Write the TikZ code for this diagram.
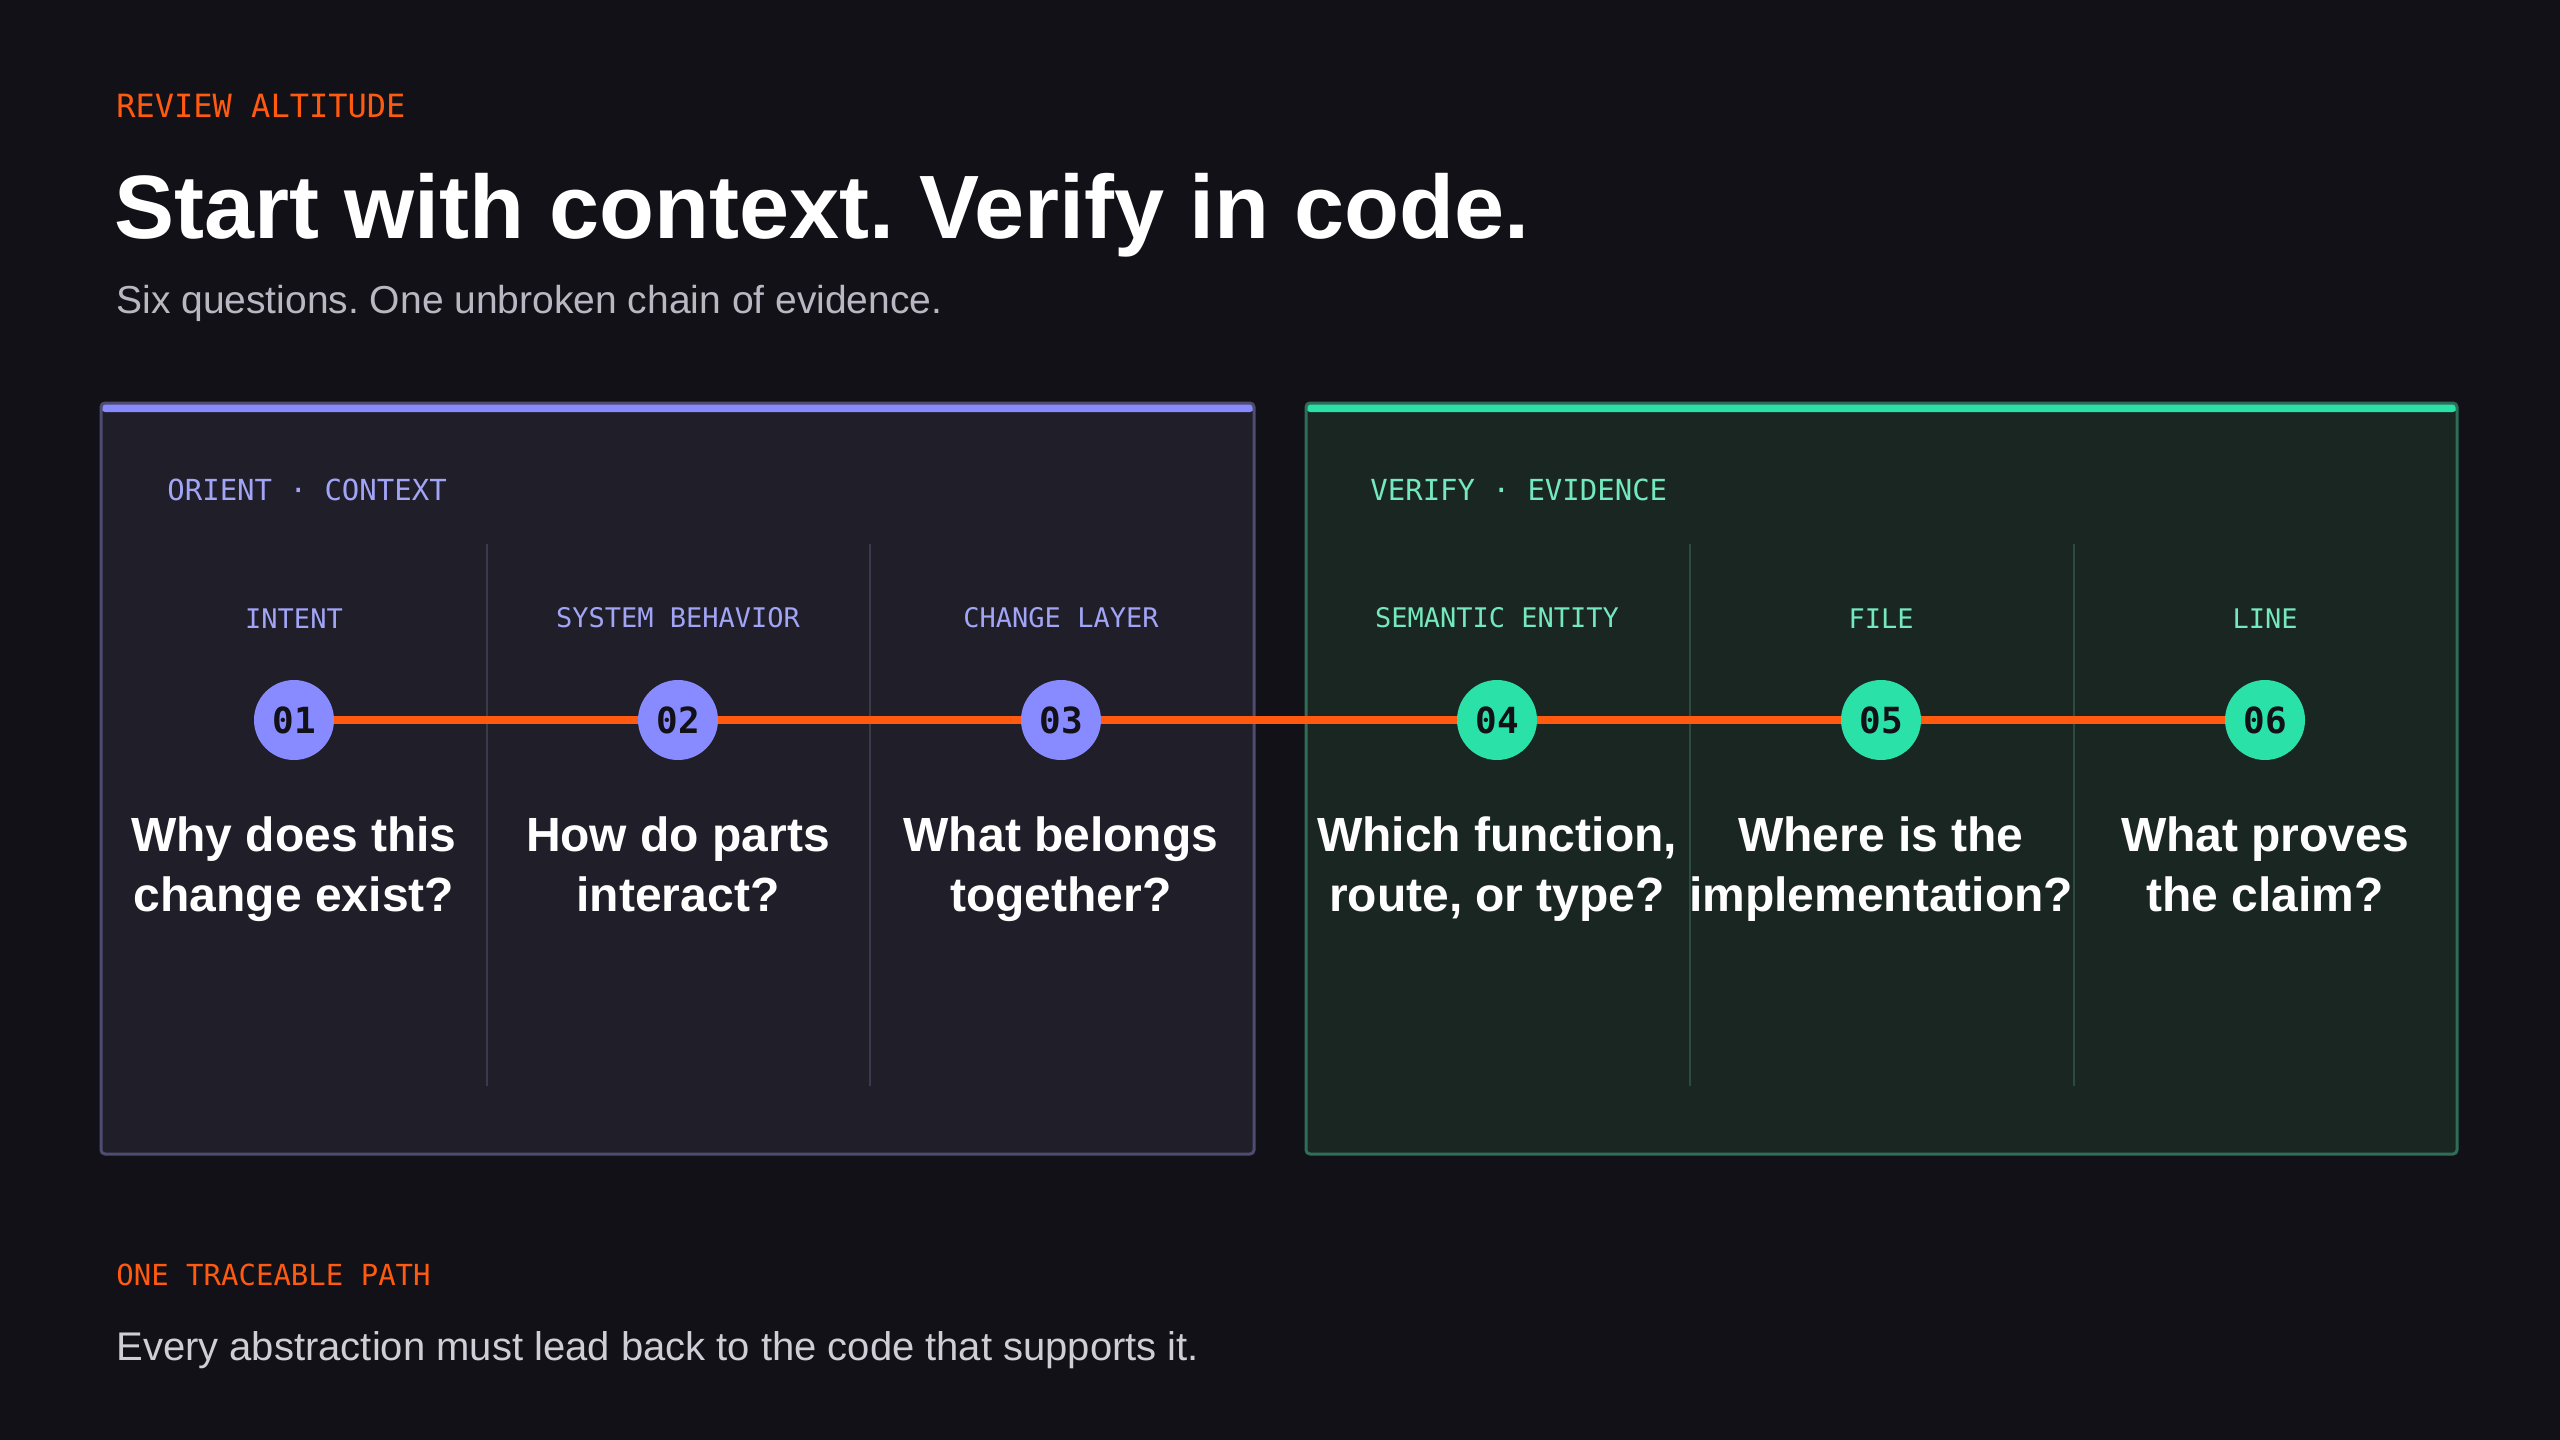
\documentclass[tikz,border=0pt]{standalone}
\usepackage{fontspec}
\setmainfont{Liberation Sans}
\setmonofont{DejaVu Sans Mono}
\usetikzlibrary{positioning}
\frenchspacing

\definecolor{bgdark}{HTML}{121117}
\definecolor{accent}{HTML}{FF5A0F}
\definecolor{orientc}{HTML}{878BFF}
\definecolor{orientlbl}{HTML}{A2A4F6}
\definecolor{orientfill}{HTML}{1F1E29}
\definecolor{orientedge}{HTML}{4E4C70}
\definecolor{orientrule}{HTML}{3B3A4A}
\definecolor{verifyc}{HTML}{2AE2A8}
\definecolor{verifylbl}{HTML}{74E8BF}
\definecolor{verifyfill}{HTML}{1A2621}
\definecolor{verifyedge}{HTML}{2E6E58}
\definecolor{verifyrule}{HTML}{2D4A40}
\definecolor{subgray}{HTML}{B9B7C1}
\definecolor{footgray}{HTML}{CFCDD5}

\tikzset{
  kicker/.style={anchor=base west, inner sep=0, text=accent, font=\ttfamily\fontsize{14.5}{17}\selectfont},
  panel/.style={draw=#1edge, line width=1.5pt, fill=#1fill, rounded corners=2pt,
    minimum height=375.5pt, inner sep=0,
    path picture={\fill[#1c] (path picture bounding box.north west) rectangle ([yshift=-4.5pt]path picture bounding box.north east);}},
  section/.style={anchor=base west, inner sep=0, text=#1lbl, font=\ttfamily\fontsize{14.5}{17}\selectfont},
  level/.style={inner sep=0, anchor=south, text=#1lbl, font=\ttfamily\fontsize{13.5}{16}\selectfont},
  stepdot/.style={circle, fill=#1c, minimum size=40pt, inner sep=0, text=bgdark, font=\ttfamily\bfseries\fontsize{18}{20}\selectfont},
  question/.style={inner sep=0, anchor=north, align=center, text=white, font=\bfseries\fontsize{24}{30}\selectfont},
  divider/.style={draw=#1rule, line width=1pt},
  chainline/.style={draw=accent, line width=4pt}
}

\begin{document}
\begin{tikzpicture}[x=1pt, y=1pt]
    \useasboundingbox [fill=bgdark] (0,0) rectangle (1280,-720);

    % header
    \node (kick) at (58,-58.8) [kicker, font=\ttfamily\fontsize{16}{19}\selectfont] {REVIEW ALTITUDE};
    \node (title) at (57,-119) [anchor=base west, inner sep=0, text=white, font=\bfseries\fontsize{45}{52}\selectfont] {Start with context. Verify in code.};
    \node (sub) at (58,-156.5) [anchor=base west, inner sep=0, text=subgray, font=\fontsize{19.5}{23}\selectfont] {Six questions. One unbroken chain of evidence.};

    % panels
    \node (orient) at (338.75,-389.25) [panel=orient, minimum width=576.5pt] {};
    \node (verify) at (940.75,-389.25) [panel=verify, minimum width=575.5pt] {};
    \node (orientlabel) at (83.5,-250) [section=orient] {ORIENT · CONTEXT};
    \node (verifylabel) at (685,-250) [section=verify] {VERIFY · EVIDENCE};

    % column rules
    \coordinate (r1t) at (243.5,-272);  \coordinate (r1b) at (243.5,-543);
    \coordinate (r2t) at (435,-272);    \coordinate (r2b) at (435,-543);
    \coordinate (r3t) at (845,-272);    \coordinate (r3b) at (845,-543);
    \coordinate (r4t) at (1036.75,-272); \coordinate (r4b) at (1036.75,-543);
    \path [divider=orient] (r1t) -- (r1b);
    \path [divider=orient] (r2t) -- (r2b);
    \path [divider=verify] (r3t) -- (r3b);
    \path [divider=verify] (r4t) -- (r4b);

    % steps
    \node (c1) at (147,-360) [stepdot=orient] {01};
    \node (c2) at (339,-360) [stepdot=orient] {02};
    \node (c3) at (530.5,-360) [stepdot=orient] {03};
    \node (c4) at (748.5,-360) [stepdot=verify] {04};
    \node (c5) at (940.5,-360) [stepdot=verify] {05};
    \node (c6) at (1132.5,-360) [stepdot=verify] {06};

    \path [chainline] (c1) -- (c2);
    \path [chainline] (c2) -- (c3);
    \path [chainline] (c3) -- (c4);
    \path [chainline] (c4) -- (c5);
    \path [chainline] (c5) -- (c6);

    \node (l1) [level=orient, above=25.5pt of c1] {INTENT};
    \node (l2) [level=orient, above=25.5pt of c2] {SYSTEM BEHAVIOR};
    \node (l3) [level=orient, above=25.5pt of c3] {CHANGE LAYER};
    \node (l4) [level=verify, above=25.5pt of c4] {SEMANTIC ENTITY};
    \node (l5) [level=verify, above=25.5pt of c5] {FILE};
    \node (l6) [level=verify, above=25.5pt of c6] {LINE};

    \node (q1) [question, below=28pt of c1] {Why does this\\change exist?};
    \node (q2) [question, below=28pt of c2] {How do parts\\interact?};
    \node (q3) [question, below=28pt of c3] {What belongs\\together?};
    \node (q4) [question, below=28pt of c4] {Which function,\\route, or type?};
    \node (q5) [question, below=28pt of c5] {Where is the\\implementation?};
    \node (q6) [question, below=28pt of c6] {What proves\\the claim?};

    % footer
    \node (pathkick) at (58,-642.5) [kicker] {ONE TRACEABLE PATH};
    \node (foot) at (58,-680) [anchor=base west, inner sep=0, text=footgray, font=\fontsize{20}{24}\selectfont] {Every abstraction must lead back to the code that supports it.};
\end{tikzpicture}
\end{document}
